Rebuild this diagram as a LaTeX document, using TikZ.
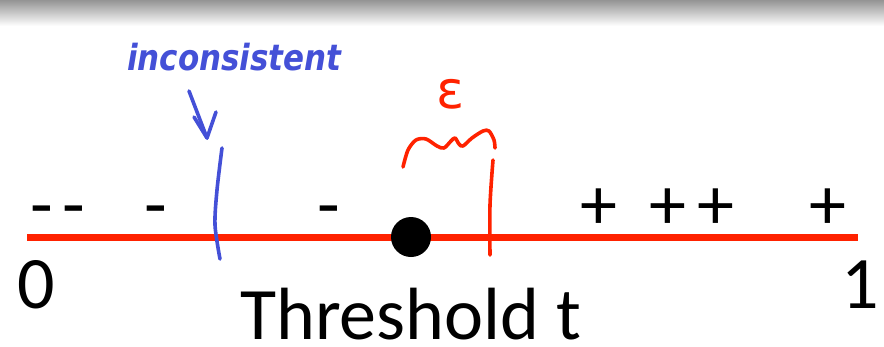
\documentclass[tikz,border=0pt]{standalone}
\usepackage{fontspec}
\setmainfont{Carlito}
\newfontfamily\handfont{DejaVu Sans}
\definecolor{axisred}{RGB}{255,34,0}
\definecolor{inkblue}{RGB}{68,80,215}
\begin{document}
\begin{tikzpicture}[x=1pt,y=-1pt,
  big/.style={font=\fontsize{74}{80}\selectfont,inner sep=0pt,anchor=base},
  sign/.style={font=\fontsize{74}{80}\selectfont,inner sep=0pt,anchor=base},
  ink/.style={line width=3.6pt,line cap=round,line join=round},
]
\useasboundingbox (0,0) rectangle (884,346);
\shade[top color=black!42,bottom color=white] (0,0) rectangle (884,26);
% axis
\coordinate (a0) at (27,237);
\coordinate (a1) at (858,237);
\draw[axisred,line width=7pt] (a0) -- (a1);
% signs
\node[sign] (m1) at (41.5,229) {-};
\node[sign] (m2) at (74,229) {-};
\node[sign] (m3) at (155.5,229) {-};
\node[sign] (m4) at (329,229) {-};
\node[sign] (p1) at (599,229) {+};
\node[sign] (p2) at (668,229) {+};
\node[sign] (p3) at (716,229) {+};
\node[sign] (p4) at (828,229) {+};
% labels
\node[big] (zero) at (36,308) {0};
\node[big] (one) at (860,308) {1};
\node[big,anchor=base west] (thr) at (240,339) {Threshold t};
% threshold dot
\node[circle,fill=black,minimum size=40pt,inner sep=0pt] (dot) at (411,237) {};
% blue annotation
\node[inkblue,font=\handfont\fontsize{36}{40}\selectfont\bfseries\itshape,inner sep=0pt,anchor=base west,xscale=0.86] (incons) at (127,70) {inconsistent};
\coordinate (bs) at (189,91);
\coordinate (bt) at (207,138);
\draw[inkblue,ink] (bs) -- (bt);
\draw[inkblue,ink] (194,117) -- (bt) -- (216,112);
\draw[inkblue,ink] plot[smooth] coordinates {(222,148) (217,190) (215,225) (220,259)};
% red epsilon
\node[axisred,font=\handfont\fontsize{52}{56}\selectfont,inner sep=0pt] (eps) at (451,94) {ε};
\draw[axisred,ink] plot[smooth] coordinates {(403,167) (408,150) (416,140) (426,139) (437,146) (444,148) (451,141) (455,138) (459,144) (463,146) (472,138) (483,131) (489,131) (494,140) (495,148)};
\draw[axisred,ink] plot[smooth] coordinates {(493,160) (490,205) (490,255)};
\end{tikzpicture}
\end{document}
